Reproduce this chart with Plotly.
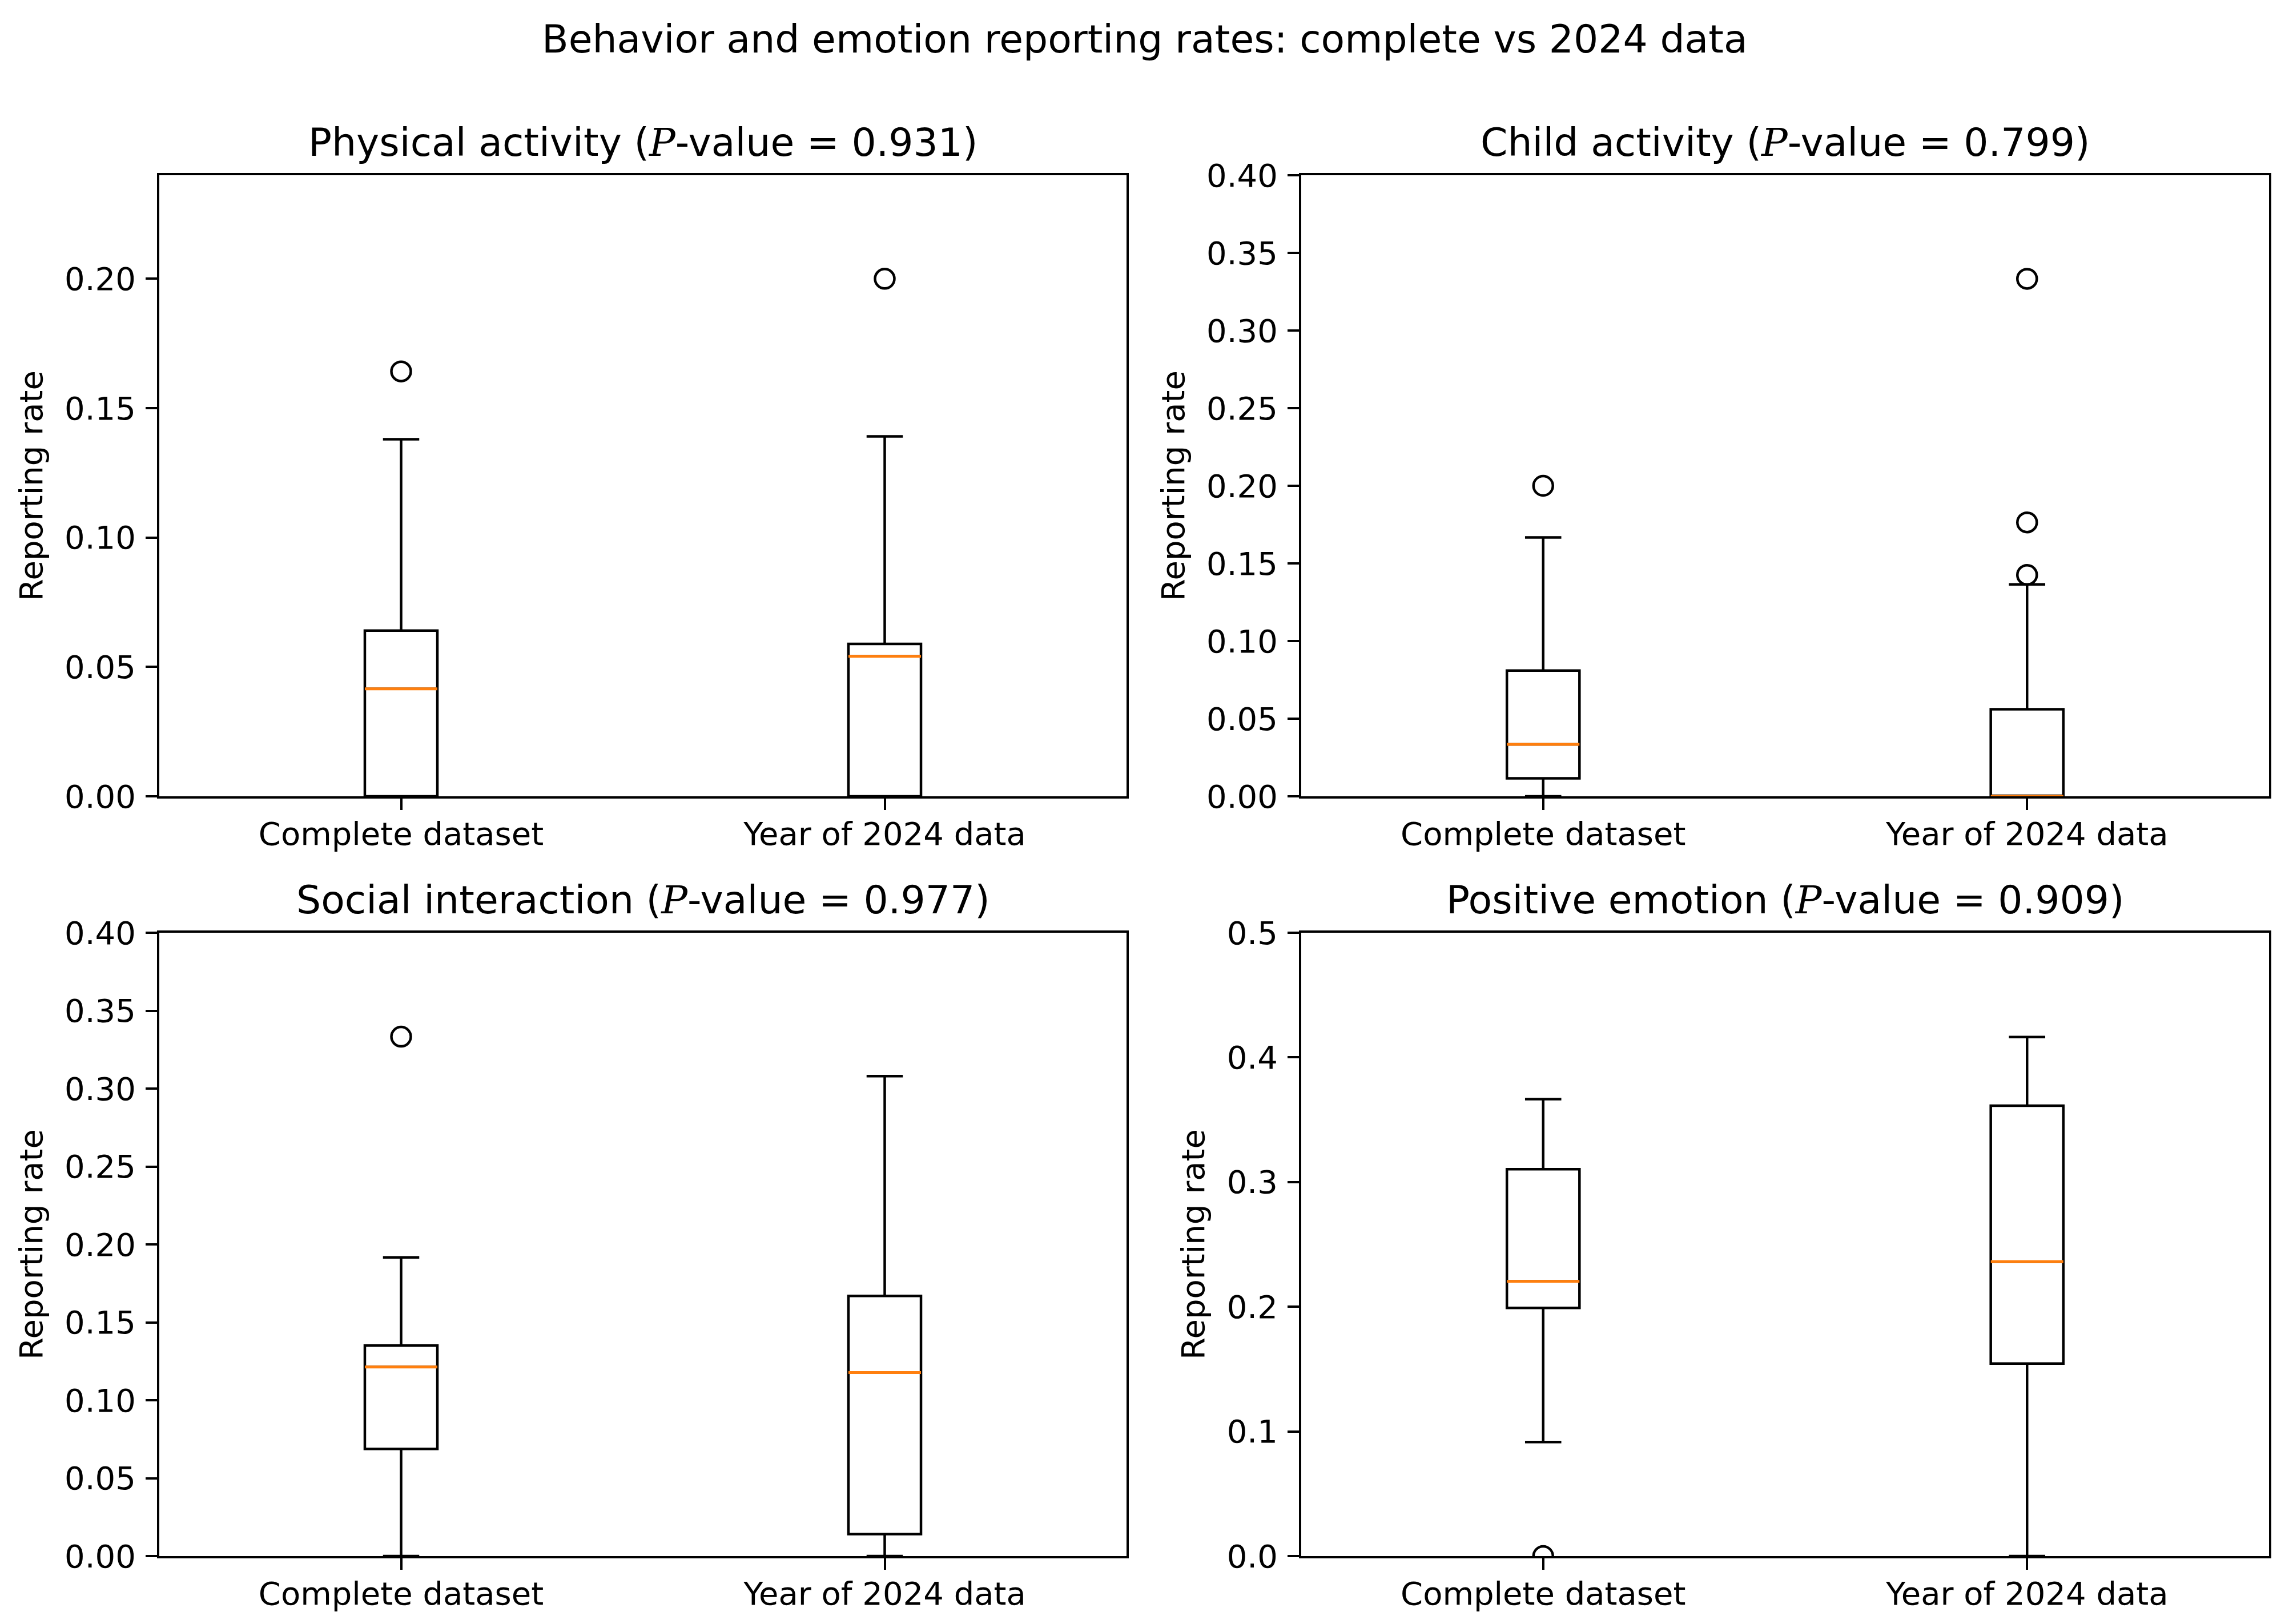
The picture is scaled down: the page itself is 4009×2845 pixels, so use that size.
import plotly.graph_objects as go

# ---------------- data ----------------
categories = ["Complete dataset", "Year of 2024 data"]
positions = [1, 2]

panel_names = ["Physical activity", "Child activity", "Social interaction", "Positive emotion"]
p_values = ["0.931", "0.799", "0.977", "0.909"]

phys_q1 = [0.0, 0.0]
phys_med = [0.0415, 0.0541]
phys_q3 = [0.0640, 0.0589]
phys_lo = [0.0, 0.0]
phys_hi = [0.1380, 0.1391]
phys_out = [[0.1642], [0.200]]

child_q1 = [0.0116, 0.0]
child_med = [0.0335, 0.0]
child_q3 = [0.0810, 0.0561]
child_lo = [0.0, 0.0]
child_hi = [0.1667, 0.1365]
child_out = [[0.200], [0.3333, 0.1764, 0.1426]]

social_q1 = [0.0688, 0.0141]
social_med = [0.1213, 0.1178]
social_q3 = [0.1351, 0.1669]
social_lo = [0.0, 0.0]
social_hi = [0.1917, 0.3080]
social_out = [[0.3333], []]

pos_q1 = [0.1991, 0.1544]
pos_med = [0.2203, 0.2361]
pos_q3 = [0.3103, 0.3613]
pos_lo = [0.0915, 0.0]
pos_hi = [0.3665, 0.4163]
pos_out = [[0.0], []]

y_max = [0.24, 0.40, 0.40, 0.50]
tick_vals_a = [0.0, 0.05, 0.10, 0.15, 0.20]
tick_text_a = ["0.00", "0.05", "0.10", "0.15", "0.20"]
tick_vals_b = [0.0, 0.05, 0.10, 0.15, 0.20, 0.25, 0.30, 0.35, 0.40]
tick_text_b = ["0.00", "0.05", "0.10", "0.15", "0.20", "0.25", "0.30", "0.35", "0.40"]
tick_vals_c = [0.0, 0.1, 0.2, 0.3, 0.4, 0.5]
tick_text_c = ["0.0", "0.1", "0.2", "0.3", "0.4", "0.5"]

suptitle = "Behavior and emotion reporting rates: complete vs 2024 data"
ylabel = "Reporting rate"

panels = [
    (phys_q1, phys_med, phys_q3, phys_lo, phys_hi, phys_out, tick_vals_a, tick_text_a),
    (child_q1, child_med, child_q3, child_lo, child_hi, child_out, tick_vals_b, tick_text_b),
    (social_q1, social_med, social_q3, social_lo, social_hi, social_out, tick_vals_b, tick_text_b),
    (pos_q1, pos_med, pos_q3, pos_lo, pos_hi, pos_out, tick_vals_c, tick_text_c),
]

# ---------------- layout geometry ----------------
W, H = 4009, 2845
FONT = "DejaVu Sans"
TICK_SIZE = 56
TITLE_SIZE = 68
x_domains = [[279 / W, 1973 / W], [2279 / W, 3974 / W]]
y_domains = [[1 - 1395 / H, 1 - 307 / H], [1 - 2726 / H, 1 - 1634 / H]]
BOX_W = 0.15
LW = 4.5
ORANGE = "#ff7f0e"

fig = go.Figure()
layout = dict(
    width=W, height=H,
    margin=dict(l=0, r=0, t=0, b=0, autoexpand=False),
    paper_bgcolor="white", plot_bgcolor="white",
    showlegend=False,
    font=dict(family=FONT, color="black", size=TICK_SIZE),
    boxmode="overlay",
)
annotations = []

for i, (q1, med, q3, lo, hi, outs, tv, tt) in enumerate(panels):
    r, c = divmod(i, 2)
    sfx = "" if i == 0 else str(i + 1)
    xa, ya = "x" + sfx, "y" + sfx

    fig.add_trace(go.Box(
        x=positions, q1=q1, median=med, q3=q3, lowerfence=lo, upperfence=hi,
        width=BOX_W, whiskerwidth=0.5,
        line=dict(color="black", width=LW), fillcolor="rgba(0,0,0,0)",
        boxpoints=False, xaxis=xa, yaxis=ya, hoverinfo="skip",
    ))
    # orange median lines
    mx, my = [], []
    for p, m in zip(positions, med):
        mx += [p - BOX_W / 2, p + BOX_W / 2, None]
        my += [m, m, None]
    fig.add_trace(go.Scatter(
        x=mx, y=my, mode="lines", line=dict(color=ORANGE, width=5),
        xaxis=xa, yaxis=ya, hoverinfo="skip",
    ))
    # fliers
    fx, fy = [], []
    for p, o in zip(positions, outs):
        fx += [p] * len(o)
        fy += list(o)
    fig.add_trace(go.Scatter(
        x=fx, y=fy, mode="markers",
        marker=dict(symbol="circle-open", size=34, color="black", line=dict(width=4.5)),
        xaxis=xa, yaxis=ya, hoverinfo="skip",
    ))

    layout["xaxis" + sfx] = dict(
        domain=x_domains[c], anchor=ya, range=[0.5, 2.5],
        tickvals=positions, ticktext=categories,
        showline=True, linecolor="black", linewidth=4, mirror=True,
        ticks="outside", ticklen=20, tickwidth=4, tickcolor="black",
        showgrid=False, zeroline=False, automargin=False,
        ticklabelstandoff=-6,
        tickfont=dict(family=FONT, size=TICK_SIZE, color="black"),
    )
    layout["yaxis" + sfx] = dict(
        domain=y_domains[r], anchor=xa, range=[0, y_max[i]],
        tickvals=tv, ticktext=tt,
        showline=True, linecolor="black", linewidth=4, mirror=True,
        ticks="outside", ticklen=20, tickwidth=4, tickcolor="black",
        showgrid=False, zeroline=False, automargin=False,
        ticklabelstandoff=6,
        tickfont=dict(family=FONT, size=TICK_SIZE, color="black"),
        title=dict(text=ylabel, font=dict(family=FONT, size=TICK_SIZE, color="black"), standoff=22),
    )
    annotations.append(dict(
        xref=xa + " domain", yref=ya + " domain", x=0.5, y=1,
        xanchor="center", yanchor="bottom", yshift=16, showarrow=False,
        text=f"{panel_names[i]} (<span style=\"font-family:'DejaVu Serif'\"><i>P</i></span>-value = {p_values[i]})",
        font=dict(family=FONT, size=TITLE_SIZE, color="black"),
    ))

annotations.append(dict(
    xref="paper", yref="paper", x=0.5, y=1 - 110 / H,
    xanchor="center", yanchor="bottom", showarrow=False,
    text=suptitle, font=dict(family=FONT, size=TITLE_SIZE, color="black"),
))
layout["annotations"] = annotations
fig.update_layout(**layout)

fig.write_html("out.html", config={"displayModeBar": False},
               post_script="document.body.style.margin='0px';")
